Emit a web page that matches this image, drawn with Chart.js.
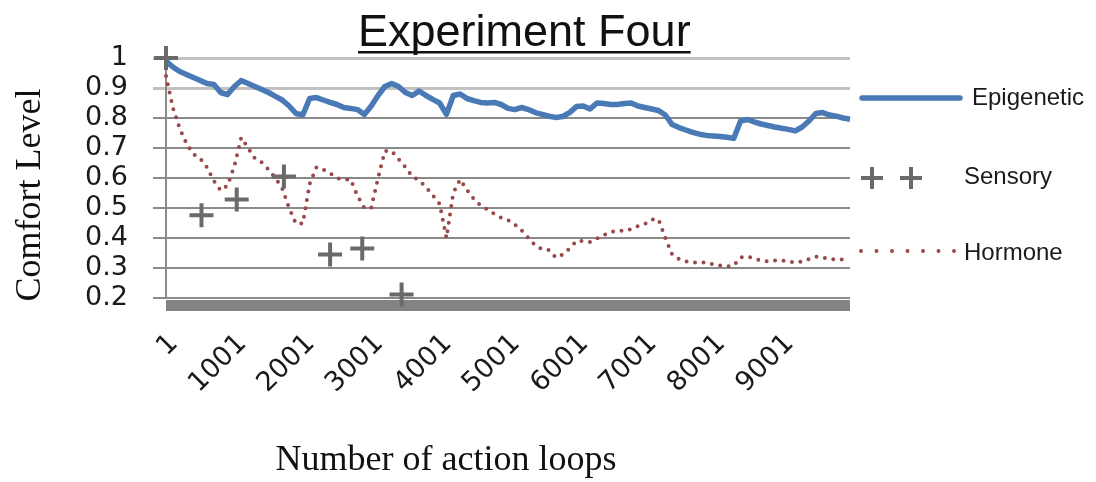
<!DOCTYPE html>
<html>
<head>
<meta charset="utf-8">
<title>Experiment Four</title>
<script src="https://cdn.jsdelivr.net/npm/chart.js@4.4.1/dist/chart.umd.min.js"></script>
<style>
  html, body { margin: 0; padding: 0; background: #fff; }
  #wrap { width: 1096px; height: 482px; }
</style>
</head>
<body>
<div id="wrap"><canvas id="comfortChart" width="1096" height="482"></canvas></div>
<script>
// --- Data: comfort level sampled every 100 action loops (1 .. 10001) ---
const LOOP_STEP = 100;

const epigenetic = [
  0.99, 0.97, 0.955, 0.945, 0.935, 0.925, 0.915, 0.912, 0.885, 0.878,
  0.905, 0.925, 0.915, 0.905, 0.895, 0.885, 0.872, 0.86, 0.84, 0.815,
  0.81, 0.865, 0.868, 0.86, 0.852, 0.845, 0.835, 0.832, 0.828, 0.812,
  0.84, 0.875, 0.905, 0.915, 0.905, 0.885, 0.875, 0.89, 0.875, 0.862,
  0.85, 0.812, 0.875, 0.88, 0.865, 0.858, 0.852, 0.85, 0.852, 0.845,
  0.832, 0.828, 0.835, 0.828, 0.818, 0.812, 0.806, 0.802, 0.805, 0.818,
  0.838, 0.84, 0.83, 0.85, 0.848, 0.845, 0.845, 0.848, 0.85, 0.84,
  0.835, 0.83, 0.825, 0.81, 0.778, 0.768, 0.76, 0.752, 0.746, 0.742,
  0.74, 0.738, 0.736, 0.732, 0.79, 0.795, 0.787, 0.78, 0.775, 0.77,
  0.766, 0.762, 0.757, 0.77, 0.79, 0.815, 0.818, 0.81, 0.806, 0.8,
  0.796
];

const hormone = [
  0.94, 0.835, 0.765, 0.715, 0.68, 0.665, 0.635, 0.59, 0.558, 0.575,
  0.64, 0.735, 0.70, 0.665, 0.652, 0.628, 0.60, 0.565, 0.50, 0.448,
  0.448, 0.58, 0.636, 0.628, 0.616, 0.60, 0.595, 0.595, 0.54, 0.50,
  0.50, 0.60, 0.69, 0.69, 0.663, 0.636, 0.605, 0.592, 0.57, 0.542,
  0.514, 0.40, 0.55, 0.595, 0.56, 0.53, 0.508, 0.495, 0.48, 0.468,
  0.46, 0.445, 0.425, 0.40, 0.375, 0.362, 0.36, 0.335, 0.345, 0.365,
  0.39, 0.39, 0.387, 0.398, 0.41, 0.42, 0.425, 0.423, 0.43, 0.44,
  0.447, 0.462, 0.462, 0.40, 0.345, 0.33, 0.322, 0.318, 0.318, 0.318,
  0.312, 0.308, 0.305, 0.308, 0.335, 0.338, 0.332, 0.325, 0.322, 0.325,
  0.325, 0.322, 0.318, 0.322, 0.33, 0.338, 0.335, 0.33, 0.328, 0.328,
  0.326
];

// sensory readings are sparse, logged at their own loop counts
const sensoryLoops = [1, 520, 1035, 1725, 2400, 2870, 3445];
const sensoryLevels = [1.0, 0.476, 0.528, 0.605, 0.345, 0.365, 0.212];

const xTickLoops = [1, 1001, 2001, 3001, 4001, 5001, 6001, 7001, 8001, 9001];
const yTicks = [0.2, 0.3, 0.4, 0.5, 0.6, 0.7, 0.8, 0.9, 1];

const seriesNames = ['Epigenetic', 'Sensory', 'Hormone'];

// --- Styles ---
const EPI_COLOR = '#4a7ab5';
const HORMONE_COLOR = '#98494a';
const SENSORY_COLOR = '#6a6a6a';

const toPoints = (vals) => vals.map((v, i) => ({ x: 1 + i * LOOP_STEP, y: v }));

// Plus marker used in the legend
function drawPlus(ctx, x, y, r) {
    ctx.beginPath();
    ctx.moveTo(x - r, y); ctx.lineTo(x + r, y);
    ctx.moveTo(x, y - r); ctx.lineTo(x, y + r);
    ctx.stroke();
}

// Title, axis titles, floor bar and the side legend
const decorations = {
    id: 'decorations',
    beforeDatasetsDraw(chart) {
        const { ctx, chartArea } = chart;
        ctx.save();
        ctx.fillStyle = '#838383';
        ctx.fillRect(chartArea.left, chartArea.bottom + 2, chartArea.right - chartArea.left, 11);
        ctx.restore();
    },
    afterDraw(chart) {
        const { ctx } = chart;
        ctx.save();

        // chart title, underlined
        ctx.fillStyle = '#111';
        ctx.font = '45px "Liberation Sans", Arial, sans-serif';
        ctx.textBaseline = 'alphabetic';
        ctx.textAlign = 'left';
        const title = 'Experiment Four';
        const tw = ctx.measureText(title).width;
        ctx.fillText(title, 358, 46);
        ctx.fillRect(358, 51, tw, 2.5);

        // axis titles
        ctx.font = '36px "Liberation Serif", "Times New Roman", serif';
        ctx.textAlign = 'center';
        ctx.fillText('Number of action loops', 446, 470);
        ctx.save();
        ctx.translate(40, 195);
        ctx.rotate(-Math.PI / 2);
        ctx.fillText('Comfort Level', 0, 0);
        ctx.restore();

        // legend
        ctx.font = '24px "Liberation Sans", Arial, sans-serif';
        ctx.textAlign = 'left';
        ctx.textBaseline = 'middle';

        ctx.strokeStyle = EPI_COLOR;
        ctx.lineWidth = 5.5;
        ctx.lineCap = 'round';
        ctx.beginPath();
        ctx.moveTo(862, 98); ctx.lineTo(960, 98);
        ctx.stroke();
        ctx.fillStyle = '#1a1a1a';
        ctx.fillText(seriesNames[0], 972, 98);

        ctx.strokeStyle = SENSORY_COLOR;
        ctx.lineWidth = 4;
        ctx.lineCap = 'butt';
        drawPlus(ctx, 872, 178, 11);
        drawPlus(ctx, 911, 178, 11);
        ctx.fillText(seriesNames[1], 964, 177);

        ctx.strokeStyle = HORMONE_COLOR;
        ctx.lineWidth = 4;
        ctx.lineCap = 'round';
        ctx.setLineDash([0, 15.5]);
        ctx.beginPath();
        ctx.moveTo(861, 251); ctx.lineTo(955, 251);
        ctx.stroke();
        ctx.setLineDash([]);
        ctx.fillText(seriesNames[2], 964, 253);

        ctx.restore();
    }
};

const tickFont = { family: '"DejaVu Sans", sans-serif', size: 27 };

new Chart(document.getElementById('comfortChart'), {
    type: 'line',
    data: {
        datasets: [
            {
                label: seriesNames[0],
                data: toPoints(epigenetic),
                borderColor: EPI_COLOR,
                borderWidth: 5.5,
                borderJoinStyle: 'round',
                pointRadius: 0,
                tension: 0,
                clip: false,
                order: 2
            },
            {
                label: seriesNames[1],
                data: sensoryLoops.map((x, i) => ({ x, y: sensoryLevels[i] })),
                showLine: false,
                pointStyle: 'cross',
                pointRadius: 12,
                pointBorderWidth: 4,
                pointBorderColor: SENSORY_COLOR,
                pointBackgroundColor: SENSORY_COLOR,
                borderColor: SENSORY_COLOR,
                clip: false,
                order: 0
            },
            {
                label: seriesNames[2],
                data: toPoints(hormone),
                borderColor: HORMONE_COLOR,
                borderWidth: 4,
                borderDash: [0, 8.5],
                borderCapStyle: 'round',
                pointRadius: 0,
                tension: 0,
                clip: false,
                order: 1
            }
        ]
    },
    options: {
        responsive: false,
        animation: false,
        devicePixelRatio: 1,
        layout: { padding: { top: 58, right: 246, left: 0, bottom: 0 } },
        plugins: {
            legend: { display: false },
            title: { display: false },
            tooltip: { enabled: false }
        },
        scales: {
            x: {
                type: 'linear',
                min: 1,
                max: 10001,
                afterBuildTicks: (scale) => { scale.ticks = xTickLoops.map(v => ({ value: v })); },
                afterFit: (scale) => { scale.height = 184; },
                grid: { display: false, drawTicks: false },
                border: { display: false },
                ticks: {
                    autoSkip: false,
                    minRotation: 45,
                    maxRotation: 45,
                    padding: 30,
                    labelOffset: 8,
                    color: '#1a1a1a',
                    font: tickFont,
                    callback: (v) => String(v)
                }
            },
            y: {
                min: 0.2,
                max: 1,
                afterBuildTicks: (scale) => { scale.ticks = yTicks.map(v => ({ value: v })); },
                afterFit: (scale) => { scale.width = 166; },
                grid: {
                    color: (c) => (c.tick && c.tick.value >= 0.85 ? '#c2c2c2' : '#8a8a8a'),
                    lineWidth: (c) => (c.tick && c.tick.value >= 0.85 ? 3 : 2),
                    tickLength: 13,
                    drawTicks: true
                },
                border: { color: '#8a8a8a', width: 2 },
                ticks: {
                    autoSkip: false,
                    padding: 25,
                    color: '#1a1a1a',
                    font: tickFont,
                    callback: (v) => String(v)
                }
            }
        }
    },
    plugins: [decorations]
});
</script>
</body>
</html>
